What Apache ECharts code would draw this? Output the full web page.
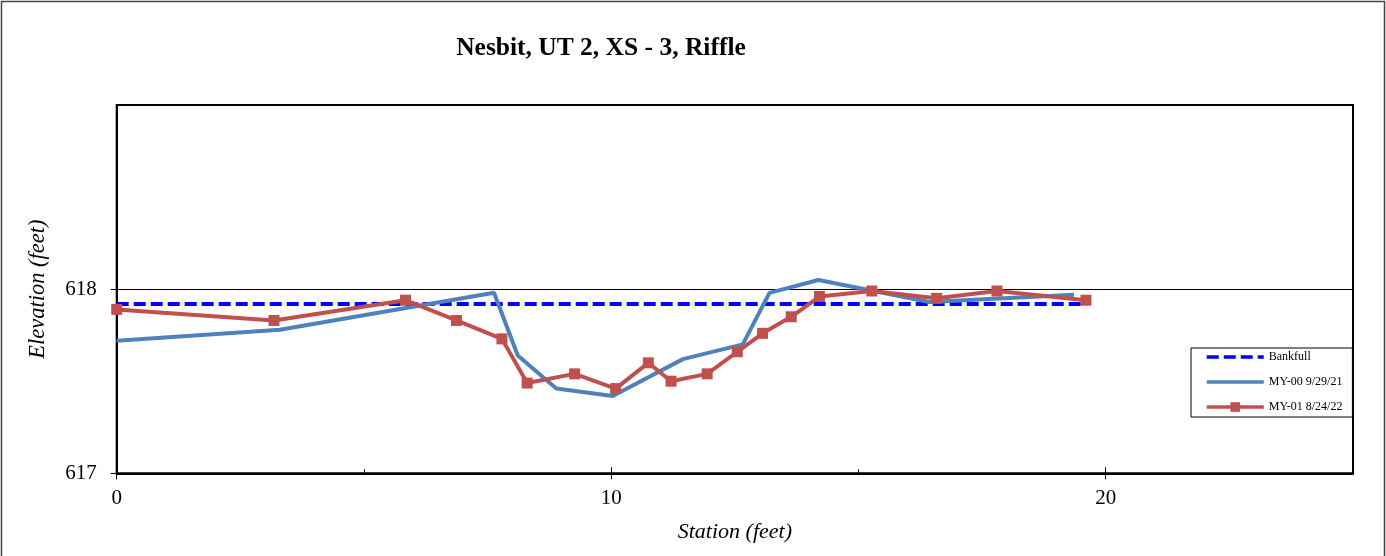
<!DOCTYPE html>
<html>
<head>
<meta charset="utf-8">
<script src="https://cdn.jsdelivr.net/npm/echarts@6/dist/echarts.min.js"></script>
<style>
  html, body { margin: 0; padding: 0; background: #fff; }
  #chart { width: 1386px; height: 556px; }
</style>
</head>
<body>
<div id="chart"></div>
<script>
// Cross-section survey: station (ft) vs elevation (ft)
const titleText = 'Nesbit, UT 2, XS - 3, Riffle';

const bankfullStation = [0, 19.5];
const bankfullElev = [617.92, 617.92];

const my00Station = [0, 3.3, 7.63, 8.11, 8.89, 10.03, 11.45, 12.66, 13.2, 14.19, 16.43, 19.36];
const my00Elev = [617.72, 617.78, 617.98, 617.64, 617.46, 617.42, 617.62, 617.7, 617.98, 618.05, 617.93, 617.97];

const my01Station = [0, 3.18, 5.84, 6.87, 7.79, 8.3, 9.26, 10.09, 10.75, 11.21, 11.94, 12.55, 13.06, 13.64, 14.21, 15.27, 16.58, 17.8, 19.6];
const my01Elev = [617.89, 617.83, 617.94, 617.83, 617.73, 617.49, 617.54, 617.46, 617.6, 617.5, 617.54, 617.66, 617.76, 617.85, 617.96, 617.99, 617.95, 617.99, 617.94];

const xMajorTicks = [0, 10, 20];
const xMinorTicks = [5, 15];
const yTicks = [617, 618];

const zip = (xs, ys) => xs.map((x, i) => [x, ys[i]]);

const serif = 'Liberation Serif, Times New Roman, serif';

const chart = echarts.init(document.getElementById('chart'), null, { renderer: 'canvas' });

const baseX = {
  type: 'value', min: 0, max: 25, gridIndex: 0, position: 'bottom',
  splitLine: { show: false }
};

chart.setOption({
  animation: false,
  backgroundColor: '#fff',
  title: {
    text: titleText,
    left: 601, top: 35, textAlign: 'center', padding: 0,
    textStyle: { fontFamily: serif, fontSize: 25.5, fontWeight: 'bold', color: '#000' }
  },
  graphic: [{
    type: 'rect', silent: true, z: -10,
    shape: { x: 1.5, y: 1.5, width: 1383, height: 570 },
    style: { fill: null, stroke: '#444', lineWidth: 1.5 }
  }],
  legend: {
    orient: 'vertical',
    left: 1191, top: 348,
    padding: [3, 10, 4, 14],
    itemWidth: 57, itemHeight: 12, itemGap: 13,
    backgroundColor: '#fff',
    borderColor: '#000', borderWidth: 1,
    lineStyle: { width: 3.5 },
    textStyle: { fontFamily: serif, fontSize: 12, color: '#000' },
    data: ['Bankfull', 'MY-00 9/29/21', 'MY-01 8/24/22']
  },
  grid: {
    left: 116.7, top: 105, right: 33, bottom: 82.7,
    show: true, borderColor: '#000', borderWidth: 2
  },
  xAxis: [
    Object.assign({}, baseX, {
      name: 'Station (feet)', nameLocation: 'middle', nameGap: 48,
      nameTextStyle: { fontFamily: serif, fontSize: 22, fontStyle: 'italic', color: '#000' },
      axisLine: { show: true, lineStyle: { color: '#000', width: 2 } },
      axisTick: { show: true, inside: false, length: 6, customValues: xMajorTicks, lineStyle: { color: '#000', width: 1 } },
      axisLabel: { customValues: xMajorTicks, margin: 15, fontFamily: serif, fontSize: 21, color: '#000' }
    }),
    Object.assign({}, baseX, {
      axisLine: { show: false },
      axisTick: { show: true, inside: true, length: 6, customValues: xMajorTicks, lineStyle: { color: '#000', width: 1 } },
      axisLabel: { show: false }
    }),
    Object.assign({}, baseX, {
      axisLine: { show: false },
      axisTick: { show: true, inside: true, length: 4, customValues: xMinorTicks, lineStyle: { color: '#000', width: 1 } },
      axisLabel: { show: false }
    })
  ],
  yAxis: {
    type: 'value', min: 617, max: 619, interval: 1,
    name: 'Elevation (feet)', nameLocation: 'middle', nameGap: 67,
    nameTextStyle: { fontFamily: serif, fontSize: 22.5, fontStyle: 'italic', color: '#000' },
    axisLine: { show: true, lineStyle: { color: '#000', width: 2 } },
    axisTick: { show: true, inside: false, length: 6, customValues: yTicks, lineStyle: { color: '#000', width: 1 } },
    axisLabel: { customValues: yTicks, margin: 20, fontFamily: serif, fontSize: 21, color: '#000' },
    splitLine: { show: true, lineStyle: { color: '#000', width: 1 } }
  },
  series: [
    {
      name: 'Bankfull', type: 'line', xAxisIndex: 0,
      data: zip(bankfullStation, bankfullElev),
      symbol: 'none', color: '#0000FF',
      itemStyle: { opacity: 0 },
      lineStyle: { color: '#0000FF', width: 4, type: [12, 5] },
      z: 2
    },
    {
      name: 'MY-00 9/29/21', type: 'line', xAxisIndex: 0,
      data: zip(my00Station, my00Elev),
      symbol: 'none', color: '#4F81BD',
      itemStyle: { opacity: 0 },
      lineStyle: { color: '#4F81BD', width: 4 },
      z: 3
    },
    {
      name: 'MY-01 8/24/22', type: 'line', xAxisIndex: 0,
      data: zip(my01Station, my01Elev),
      symbol: 'rect', symbolSize: 11, color: '#C0504D',
      itemStyle: { color: '#C0504D' },
      lineStyle: { color: '#C0504D', width: 4 },
      z: 4
    }
  ]
});
</script>
</body>
</html>
